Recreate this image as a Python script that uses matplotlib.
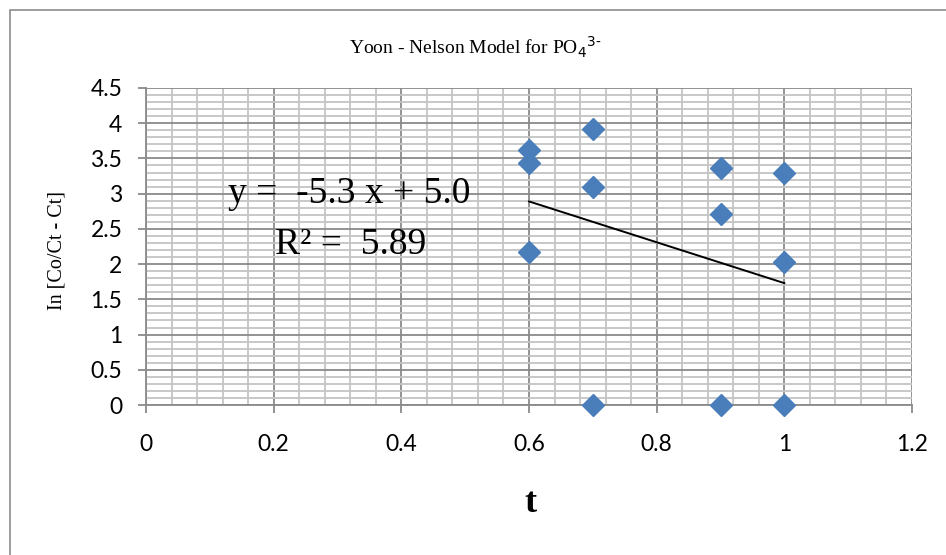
import matplotlib.pyplot as plt
from matplotlib.patches import Rectangle
from matplotlib.ticker import MultipleLocator

# data
t_vals = [0.6, 0.6, 0.6, 0.7, 0.7, 0.7, 0.9, 0.9, 0.9, 1.0, 1.0, 1.0]
ln_vals = [3.62, 3.44, 2.17, 3.92, 3.10, 0.0, 3.36, 2.71, 0.0, 3.30, 2.03, 0.0]
trend_t = [0.6, 1.0]
trend_ln = [2.89, 1.73]

x_ticks = [0, 0.2, 0.4, 0.6, 0.8, 1, 1.2]
y_ticks = [0, 0.5, 1, 1.5, 2, 2.5, 3, 3.5, 4, 4.5]

serif = 'Liberation Serif'
sans = 'Lato'

fig = plt.figure(figsize=(9.46, 5.55), dpi=100, facecolor='w')
ax = fig.add_axes([146 / 946, 1 - 405 / 555, (912 - 146) / 946, (405 - 88) / 555])

# outer chart border (only left/top visible)
fig.patches.append(Rectangle((10 / 946, -0.1), 1.2, 1 - 10 / 555 + 0.1,
                             transform=fig.transFigure, fill=False,
                             edgecolor='#8c8c8c', linewidth=1.2))

ax.set_xlim(0, 1.2)
ax.set_ylim(0, 4.5)
ax.set_xticks(x_ticks)
ax.set_xticklabels(['0', '0.2', '0.4', '0.6', '0.8', '1', '1.2'])
ax.set_yticks(y_ticks)
ax.set_yticklabels(['0', '0.5', '1', '1.5', '2', '2.5', '3', '3.5', '4', '4.5'])
ax.xaxis.set_minor_locator(MultipleLocator(0.04))
ax.yaxis.set_minor_locator(MultipleLocator(0.1))

ax.grid(which='minor', color='#c4c4c4', linewidth=1.3)
ax.grid(which='major', color='#8a8a8a', linewidth=1.3)
ax.set_axisbelow(True)

for s in ['top', 'right']:
    ax.spines[s].set_visible(False)
for s in ['left', 'bottom']:
    ax.spines[s].set_color('#8a8a8a')
    ax.spines[s].set_linewidth(1.3)

ax.tick_params(which='major', direction='out', length=6, color='#8a8a8a', width=1.3,
               labelsize=16.5)
ax.tick_params(axis='x', pad=15)
ax.tick_params(axis='y', pad=11)
ax.tick_params(which='minor', length=0)
for lab in ax.get_xticklabels() + ax.get_yticklabels():
    lab.set_fontfamily(sans)

ax.plot(trend_t, trend_ln, color='black', linewidth=1.4, zorder=3)
ax.plot(t_vals, ln_vals, linestyle='none', marker='D', markersize=11,
        color='#4a7ebb', markeredgecolor='#4a7ebb', clip_on=False, zorder=4)

fig.text(475 / 946, 1 - 47 / 555, 'Yoon - Nelson Model for PO$_4$$^{3\\text{-}}$',
         ha='center', va='center', fontsize=14, family=serif)
fig.text(57 / 946, 1 - 250 / 555, 'In [Co/Ct - Ct]', rotation=90,
         ha='center', va='center', fontsize=14.5, family=serif)
fig.text(530 / 946, 1 - 503 / 555, 't', ha='center', va='center',
         fontsize=26, fontweight='bold', family=serif)

ax.text(0.318, 3.0, 'y =  -5.3 x + 5.0', ha='center', va='center',
        fontsize=27, family=serif)
ax.text(0.32, 2.27, 'R² =  5.89', ha='center', va='center',
        fontsize=27, family=serif)

plt.savefig('out.png', dpi=100, facecolor='w')
